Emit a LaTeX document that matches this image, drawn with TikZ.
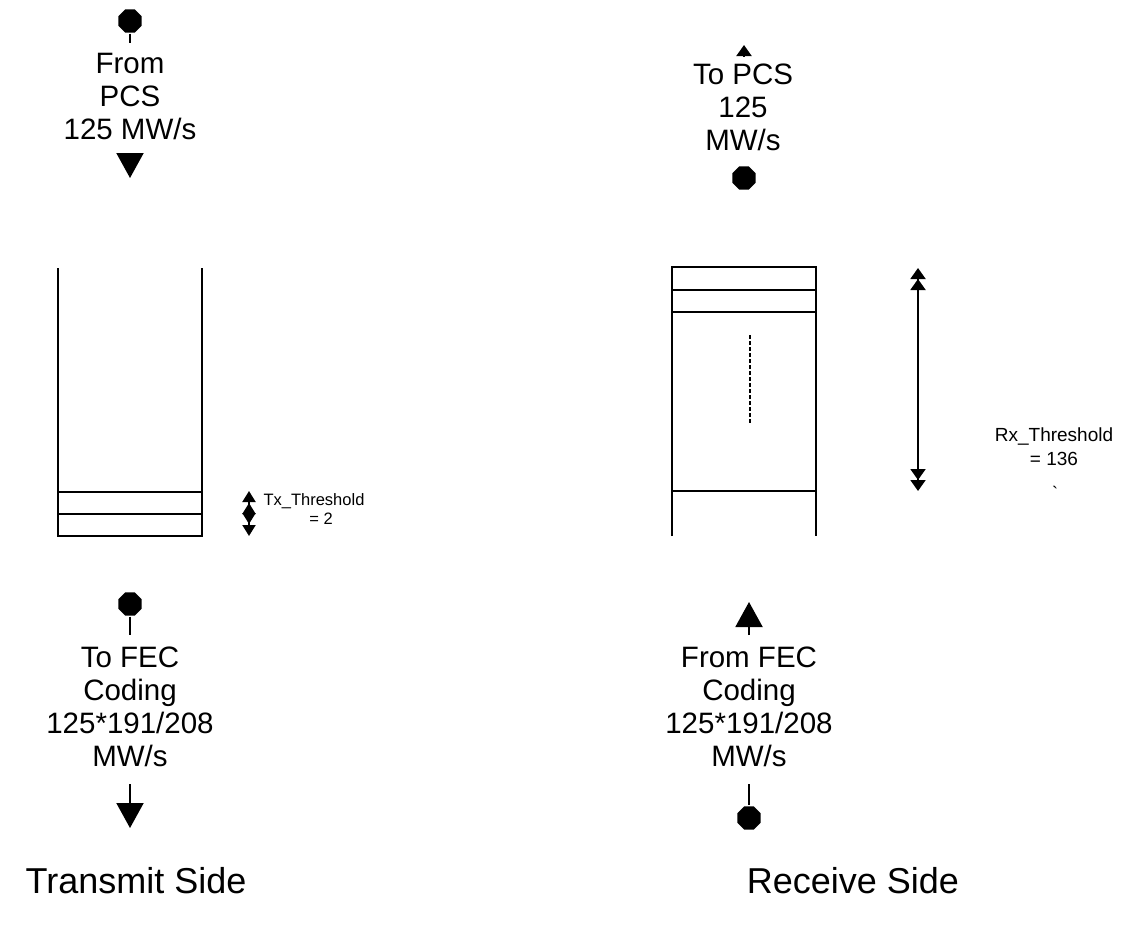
\documentclass[tikz,border=0pt]{standalone}
\usepackage{fontspec}
\setmainfont{Liberation Sans}
\usetikzlibrary{arrows.meta,shapes.geometric}
\begin{document}
\begin{tikzpicture}[x=1pt,y=-1pt,line width=2pt,
  dotnode/.style={regular polygon,regular polygon sides=8,fill=black,draw=none,inner sep=0pt,minimum size=25pt},
  biglbl/.style={font=\fontsize{29.5}{33}\selectfont,align=center,inner sep=0pt,anchor=north},
  smalllbl/.style={font=\fontsize{16.5}{19}\selectfont,align=center,inner sep=0pt,anchor=north},
  sidelbl/.style={font=\fontsize{36}{40}\selectfont,inner sep=0pt,anchor=north},
  bighead/.style={-{Triangle[width=27pt,length=25pt]}},
  smallhead/.style={-{Triangle[width=15pt,length=11pt]}},
  thrarrow/.style={{Triangle[width=13pt,length=11pt]}-{Triangle[width=13pt,length=11pt]}},
  dblarrow/.style={{Triangle[width=15pt,length=11pt]Triangle[width=15pt,length=11pt]}-{Triangle[width=15pt,length=11pt]Triangle[width=15pt,length=11pt]}}]
\useasboundingbox (0,0) rectangle (1127,937);

% ---------- Transmit side ----------
\node[dotnode] (d1) at (130,21) {};
\coordinate (s1) at (130,43);
\draw (d1) -- (s1);
\node[biglbl] (t1) at (130,52) {From\\PCS\\125 MW/s};
\coordinate (b1) at (130,153);
\coordinate (a1) at (130,178);
\draw[bighead] (b1) -- (a1);

% transmit buffer
\draw (58,268) -- (58,536) -- (202,536) -- (202,268);
\draw (58,492) -- (202,492);
\draw (58,514) -- (202,514);

\coordinate (tx1) at (249,491);
\coordinate (tx2) at (249,524);
\coordinate (tx3) at (249,503);
\coordinate (tx4) at (249,536);
\draw[thrarrow] (tx1) -- (tx2);
\draw[thrarrow] (tx3) -- (tx4);
\node[smalllbl] (txl) at (314,493) {Tx\_Threshold\\\hspace*{14pt}= 2};

\node[dotnode] (d3) at (130,604) {};
\coordinate (s3) at (130,635);
\draw (d3) -- (s3);
\node[biglbl] (t3) at (130,646) {To FEC\\Coding\\125*191/208\\MW/s};
\coordinate (b3) at (130,784);
\coordinate (a3) at (130,828);
\draw[bighead] (b3) -- (a3);

\node[sidelbl] (side1) at (136,866) {Transmit Side};

% ---------- Receive side ----------
\coordinate (b2) at (744,56);
\coordinate (a2) at (744,45);
\draw[smallhead] (b2) -- (a2);
\node[biglbl] (t2) at (743,63) {To PCS\\125\\MW/s};
\node[dotnode] (d2) at (744,178) {};

% receive buffer
\draw (672,536) -- (672,267) -- (816,267) -- (816,536);
\draw (672,290) -- (816,290);
\draw (672,312) -- (816,312);
\draw (672,491) -- (816,491);
\coordinate (ds1) at (750,335);
\coordinate (ds2) at (750,424);
\draw[dash pattern=on 4pt off 2pt] (ds1) -- (ds2);

\coordinate (rx1) at (918,268);
\coordinate (rx2) at (918,491);
\draw[dblarrow] (rx1) -- (rx2);
\node[smalllbl,font=\fontsize{19}{24}\selectfont] (rxl) at (1054,427) {Rx\_Threshold\\= 136};
\node[font=\fontsize{18}{22}\selectfont,inner sep=0pt] (tick) at (1055,493) {\textasciigrave};

\coordinate (s4) at (749,635);
\coordinate (a4) at (749,602);
\draw[bighead] (s4) -- (a4);
\node[biglbl] (t4) at (749,646) {From FEC\\Coding\\125*191/208\\MW/s};
\coordinate (b4) at (749,784);
\node[dotnode] (d4) at (749,818) {};
\draw (b4) -- (d4);

\node[sidelbl] (side2) at (853,866) {Receive Side};
\end{tikzpicture}
\end{document}
